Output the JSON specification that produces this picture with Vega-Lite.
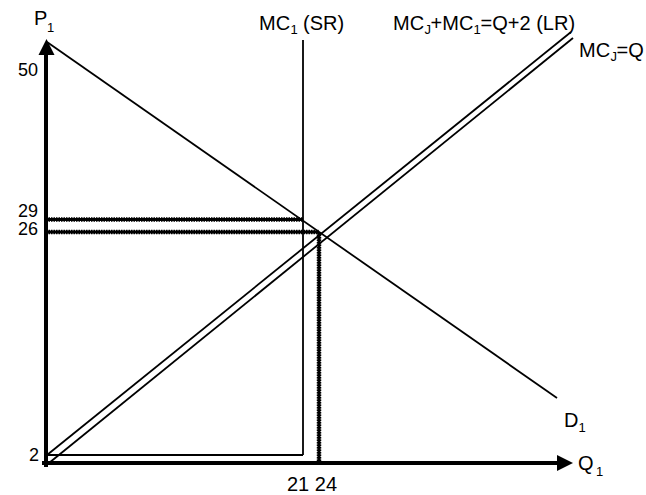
{
  "$schema": "https://vega.github.io/schema/vega-lite/v6.json",
  "width": 646,
  "height": 495,
  "autosize": {"type": "fit", "contains": "padding"},
  "padding": 0,
  "background": "white",
  "view": {"stroke": null},
  "config": {"text": {"font": "Liberation Sans", "color": "black"}},
  "datasets": {
    "axes": [
      {"name": "price axis", "x": 0, "y": -2, "x2": 0, "y2": 410},
      {"name": "quantity axis", "x": -2, "y": 0, "x2": 512, "y2": 0}
    ],
    "arrows": [
      {"name": "P1", "x": 0.5, "y": 416},
      {"name": "Q1", "x": 519, "y": 0}
    ],
    "curves": [
      {"name": "D1", "x": 1, "y": 421, "x2": 511, "y2": 65},
      {"name": "MC1 SR vertical", "x": 257, "y": 423, "x2": 257, "y2": 8},
      {"name": "MC1 SR horizontal", "x": 0, "y": 8, "x2": 257, "y2": 8},
      {"name": "MCJ+MC1=Q+2 (LR)", "x": 1, "y": 8, "x2": 525, "y2": 431},
      {"name": "MCJ=Q", "x": 3, "y": 0, "x2": 527, "y2": 425}
    ],
    "guides": [
      {"name": "P=29", "x": 0, "y": 243.5, "x2": 257, "y2": 243.5},
      {"name": "P=26", "x": 0, "y": 231, "x2": 273, "y2": 231},
      {"name": "Q=24", "x": 273, "y": 231, "x2": 273, "y2": 0}
    ],
    "labels": [
      {"text": "P", "x": -12, "y": 438},
      {"text": "MC", "x": 213, "y": 433},
      {"text": "(SR)", "x": 257, "y": 433},
      {"text": "MC", "x": 347, "y": 433},
      {"text": "+MC", "x": 384.6, "y": 433},
      {"text": "=Q+2 (LR)", "x": 434.6, "y": 433},
      {"text": "MC", "x": 533, "y": 406},
      {"text": "=Q", "x": 570.6, "y": 406},
      {"text": "D", "x": 518, "y": 36},
      {"text": "Q", "x": 532, "y": -7}
    ],
    "subscripts": [
      {"text": "1", "x": 1, "y": 431},
      {"text": "1", "x": 244.5, "y": 429},
      {"text": "J", "x": 378.4, "y": 429},
      {"text": "1", "x": 427.4, "y": 429},
      {"text": "J", "x": 564.4, "y": 402},
      {"text": "1", "x": 532.5, "y": 31},
      {"text": "1", "x": 550, "y": -13}
    ],
    "pticks": [
      {"text": "50", "x": -8, "y": 387},
      {"text": "29", "x": -8, "y": 246.5},
      {"text": "26", "x": -8, "y": 228},
      {"text": "2", "x": -7, "y": 2}
    ],
    "qticks": [
      {"text": "21 24", "x": 266, "y": -28}
    ]
  },
  "encoding": {
    "x": {"field": "x", "type": "quantitative", "scale": {"domain": [-46, 600], "nice": false, "zero": false}, "axis": null},
    "y": {"field": "y", "type": "quantitative", "scale": {"domain": [-32, 463], "nice": false, "zero": false}, "axis": null}
  },
  "layer": [
    {
      "data": {"name": "guides"},
      "mark": {"type": "rule", "color": "black", "strokeWidth": 4.5, "strokeDash": [1.5, 1], "strokeCap": "butt"},
      "encoding": {"x2": {"field": "x2"}, "y2": {"field": "y2"}}
    },
    {
      "data": {"name": "guides"},
      "mark": {"type": "rule", "color": "black", "strokeWidth": 3, "strokeCap": "butt"},
      "encoding": {"x2": {"field": "x2"}, "y2": {"field": "y2"}}
    },
    {
      "data": {"name": "curves"},
      "mark": {"type": "rule", "color": "black", "strokeWidth": 1.8},
      "encoding": {"x2": {"field": "x2"}, "y2": {"field": "y2"}}
    },
    {
      "data": {"name": "axes"},
      "mark": {"type": "rule", "color": "black", "strokeWidth": 4, "strokeCap": "square"},
      "encoding": {"x2": {"field": "x2"}, "y2": {"field": "y2"}}
    },
    {
      "data": {"name": "arrows"},
      "transform": [{"filter": "datum.name === 'P1'"}],
      "mark": {"type": "point", "shape": "M0,-1L1,1L-1,1Z", "size": 256, "filled": true, "color": "black", "opacity": 1, "strokeWidth": 0}
    },
    {
      "data": {"name": "arrows"},
      "transform": [{"filter": "datum.name === 'Q1'"}],
      "mark": {"type": "point", "shape": "M1,0L-1,-1L-1,1Z", "size": 256, "filled": true, "color": "black", "opacity": 1, "strokeWidth": 0}
    },
    {
      "data": {"name": "labels"},
      "mark": {"type": "text", "fontSize": 20, "align": "left", "baseline": "alphabetic"},
      "encoding": {"text": {"field": "text"}}
    },
    {
      "data": {"name": "subscripts"},
      "mark": {"type": "text", "fontSize": 13, "align": "left", "baseline": "alphabetic"},
      "encoding": {"text": {"field": "text"}}
    },
    {
      "data": {"name": "pticks"},
      "mark": {"type": "text", "fontSize": 18, "align": "right", "baseline": "alphabetic"},
      "encoding": {"text": {"field": "text"}}
    },
    {
      "data": {"name": "qticks"},
      "mark": {"type": "text", "fontSize": 20, "align": "center", "baseline": "alphabetic"},
      "encoding": {"text": {"field": "text"}}
    }
  ]
}
